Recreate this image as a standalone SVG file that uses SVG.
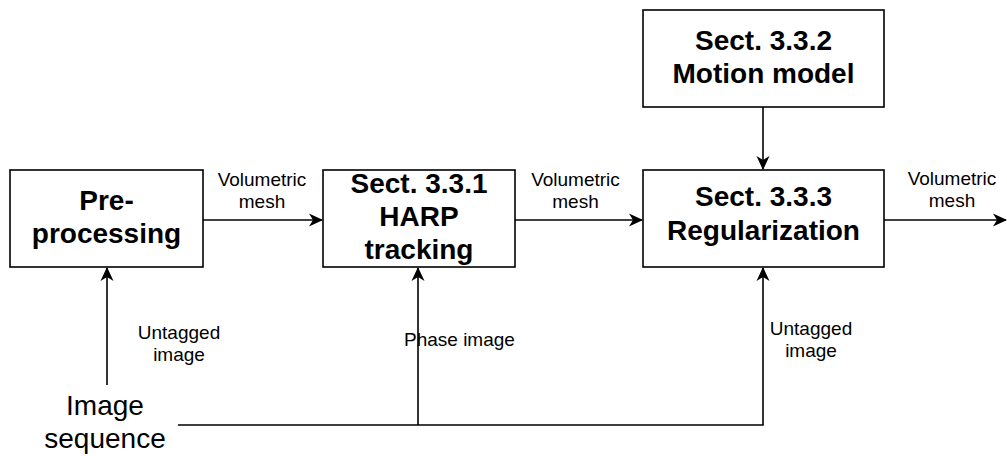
<svg xmlns="http://www.w3.org/2000/svg" width="1007" height="456" viewBox="0 0 1007 456">
<style>
.box{fill:#fff;stroke:#000;stroke-width:1.6}
.t{font-family:"Liberation Sans",Arial,sans-serif;font-weight:bold;font-size:28px;text-anchor:middle;fill:#000}
.l{font-family:"Liberation Sans",Arial,sans-serif;font-size:19px;text-anchor:middle;fill:#000}
.big{font-family:"Liberation Sans",Arial,sans-serif;font-size:28px;text-anchor:middle;fill:#000}
.c{fill:none;stroke:#000;stroke-width:1.6}
</style>
<defs>
<marker id="a" viewBox="0 0 14 14" refX="13" refY="7" markerWidth="14" markerHeight="14" orient="auto" markerUnits="userSpaceOnUse">
<path d="M0,0.5 L14,7 L0,13.5 L4,7 z" fill="#000"/>
</marker>
</defs>
<g id="connectors">
<path class="c" d="M203,220 H322" marker-end="url(#a)"/>
<path class="c" d="M515,220 H642" marker-end="url(#a)"/>
<path class="c" d="M884,220 H1006" marker-end="url(#a)"/>
<path class="c" d="M763,107 V169" marker-end="url(#a)"/>
<path class="c" d="M107,385 V268" marker-end="url(#a)"/>
<path class="c" d="M178,425 H763 V268" marker-end="url(#a)"/>
<path class="c" d="M418,425 V268" marker-end="url(#a)"/>
<text class="l" x="262" y="186">Volumetric</text>
<text class="l" x="262" y="208">mesh</text>
<text class="l" x="575.5" y="186">Volumetric</text>
<text class="l" x="575.5" y="208">mesh</text>
<text class="l" x="952" y="185">Volumetric</text>
<text class="l" x="952" y="207">mesh</text>
<text class="l" x="179" y="339">Untagged</text>
<text class="l" x="179" y="361">image</text>
<text class="l" x="404" y="346" style="text-anchor:start">Phase image</text>
<text class="l" x="811" y="335">Untagged</text>
<text class="l" x="811" y="357">image</text>
</g>
<g id="preprocessing">
<rect class="box" x="10" y="170" width="193" height="97"/>
<text class="t" x="106.5" y="210">Pre-</text>
<text class="t" x="106.5" y="243">processing</text>
</g>
<g id="harp">
<rect class="box" x="323" y="170" width="192" height="97"/>
<text class="t" x="419" y="193">Sect. 3.3.1</text>
<text class="t" x="419" y="226">HARP</text>
<text class="t" x="419" y="259">tracking</text>
</g>
<g id="motion">
<rect class="box" x="643" y="10" width="241" height="97"/>
<text class="t" x="763.5" y="50">Sect. 3.3.2</text>
<text class="t" x="763.5" y="83">Motion model</text>
</g>
<g id="regularization">
<rect class="box" x="643" y="170" width="241" height="97"/>
<text class="t" x="763.5" y="206">Sect. 3.3.3</text>
<text class="t" x="763.5" y="240">Regularization</text>
</g>
<g id="imageseq">
<text class="big" x="105" y="415">Image</text>
<text class="big" x="105" y="448">sequence</text>
</g>
</svg>
